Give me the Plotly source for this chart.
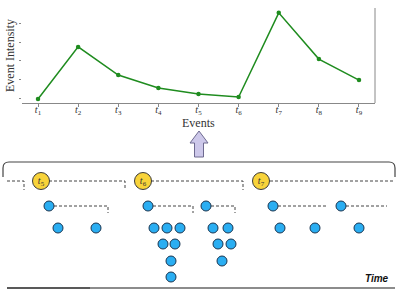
import plotly.graph_objects as go

# ---- top chart data ----
event_idx = [1, 2, 3, 4, 5, 6, 7, 8, 9]
event_labels = ["<i>t</i><sub>%d</sub>" % i for i in event_idx]
intensity = [-0.05, 2.76, 1.24, 0.54, 0.22, 0.05, 4.6, 2.1, 0.97]
y_ticks = [0, 1, 2, 3, 4]

# ---- diagram data (pixel space of the lower schematic) ----
window_x = [41, 143, 261]
window_y = [181, 181, 181]
window_labels = ["<i>t</i><sub>5</sub>", "<i>t</i><sub>6</sub>", "<i>t</i><sub>7</sub>"]

dot_x = [49, 148, 206, 273, 341,
         58, 96, 154, 167, 180, 213, 228, 280, 315, 359,
         163, 175, 218, 231,
         171, 222,
         171]
dot_y = [206] * 5 + [228] * 10 + [244] * 4 + [261] * 2 + [277]

# dashed connector polylines
dash_x = [7, 24, 24, None, 49, 125, 125, None, 151, 243, 243, None, 270, 395, None,
          49, 108, 108, None, 148, 193, 193, None, 206, 235, 235, None, 273, 328, None, 341, 387]
dash_y = [181, 181, 190, None, 181, 181, 190, None, 181, 181, 190, None, 181, 181, None,
          206, 206, 213, None, 206, 206, 213, None, 206, 206, 213, None, 206, 206, None, 206, 206]

fig = go.Figure()

fig.add_trace(go.Scatter(
    x=event_idx, y=intensity, mode="lines+markers",
    line=dict(color="#1f8c1f", width=1.5),
    marker=dict(color="#1f8c1f", size=4.5),
    xaxis="x", yaxis="y", showlegend=False, hoverinfo="skip"))

fig.add_trace(go.Scatter(
    x=dash_x, y=dash_y, mode="lines",
    line=dict(color="#444444", width=1, dash="3px,2px"),
    xaxis="x2", yaxis="y2", showlegend=False, hoverinfo="skip"))

fig.add_trace(go.Scatter(
    x=dot_x, y=dot_y, mode="markers",
    marker=dict(color="#2aaef2", size=10, line=dict(color="#1a3550", width=1)),
    xaxis="x2", yaxis="y2", showlegend=False, hoverinfo="skip"))

fig.add_trace(go.Scatter(
    x=window_x, y=window_y, mode="markers+text", text=window_labels,
    textposition="middle center",
    textfont=dict(family="Liberation Serif", size=10, color="#333333"),
    marker=dict(color="#f8d33a", size=17, line=dict(color="#3a3a3a", width=1)),
    xaxis="x2", yaxis="y2", showlegend=False, hoverinfo="skip"))

shapes = [
    # right spine of the chart
    dict(type="line", xref="x2", yref="y2", x0=375, x1=375, y0=8, y1=103,
         line=dict(color="#888888", width=1), layer="below"),
    # bracket
    dict(type="path", xref="x2", yref="y2",
         path="M 3,177 L 3,168 Q 3,162 9,162 L 389,162 Q 395,162 395,168 L 395,177",
         line=dict(color="#444444", width=1.2)),
    # arrow
    dict(type="path", xref="x2", yref="y2",
         path="M 199,131 L 208,143 L 203.5,143 L 203.5,157 L 194.5,157 L 194.5,143 L 190,143 Z",
         fillcolor="#cdc8ea", line=dict(color="#6e6a90", width=1)),
    # time axis
    dict(type="line", xref="x2", yref="y2", x0=7, x1=90, y0=288, y1=288,
         line=dict(color="#222222", width=1.5)),
    dict(type="line", xref="x2", yref="y2", x0=90, x1=395, y0=288, y1=288,
         line=dict(color="#666666", width=1.5)),
]

annotations = [
    dict(text="Event Intensity", xref="paper", yref="paper", x=10 / 399, y=1 - 56 / 292,
         xanchor="center", yanchor="middle",
         textangle=-90, showarrow=False,
         font=dict(family="Liberation Serif", size=12, color="#333333")),
    dict(text="Events", xref="paper", yref="paper", x=198 / 399, y=1 - 123.5 / 292,
         xanchor="center", yanchor="middle",
         showarrow=False, font=dict(family="Liberation Serif", size=12, color="#333333")),
    dict(text="<b><i>Time</i></b>", xref="paper", yref="paper", x=377 / 399, y=1 - 278 / 292,
         xanchor="center", yanchor="middle",
         showarrow=False, font=dict(family="Liberation Sans", size=10, color="#111111")),
]

fig.update_layout(
    width=399, height=292,
    margin=dict(l=0, r=0, t=0, b=0),
    paper_bgcolor="white", plot_bgcolor="rgba(0,0,0,0)",
    shapes=shapes, annotations=annotations,
    xaxis=dict(domain=[22 / 399, 375 / 399], range=[0.601, 9.399],
               tickvals=event_idx, ticktext=event_labels,
               showgrid=False, zeroline=False, showline=True, linecolor="#888888", linewidth=1,
               ticks="outside", ticklen=3, tickcolor="#888888",
               ticklabelstandoff=-6,
               tickfont=dict(family="Liberation Serif", size=10, color="#333333"),
               anchor="y"),
    yaxis=dict(domain=[1 - 103 / 292, 1 - 8 / 292], range=[-0.27, 4.86],
               tickvals=y_ticks, showticklabels=False,
               showgrid=False, zeroline=False, showline=False,
               ticks="outside", ticklen=2, tickcolor="#888888", anchor="x"),
    xaxis2=dict(domain=[0, 1], range=[0, 399], visible=False, anchor="y2", fixedrange=True),
    yaxis2=dict(domain=[0, 1], range=[292, 0], visible=False, anchor="x2", fixedrange=True),
)

fig.write_html("out.html", config={"displayModeBar": False},
               post_script="document.body.style.margin='0';document.body.style.padding='0';")
